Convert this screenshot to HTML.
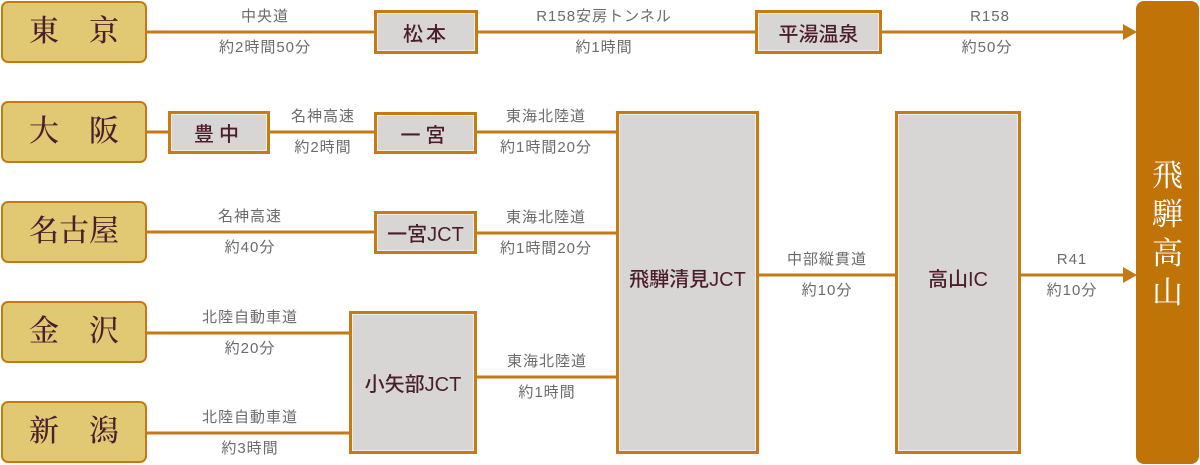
<!DOCTYPE html>
<html>
<head>
<meta charset="utf-8">
<style>
  html,body{margin:0;padding:0;background:#fff;}
  body{width:1200px;height:465px;position:relative;overflow:hidden;}
  .city{position:absolute;left:1px;width:142px;height:58px;border:2px solid #c47a14;border-radius:7px;background:#e1c872;
    font-family:"Liberation Serif","Noto Serif CJK SC","Noto Serif CJK JP",serif;font-size:30px;font-weight:500;color:#4b1e2c;
    text-align:center;line-height:58px;white-space:nowrap;}
  .g{position:absolute;box-sizing:border-box;border:3px solid #c47d14;background:#d8d6d5;box-shadow:inset 0 0 0 1px #efeeee;
    font-family:"Liberation Sans","Noto Sans CJK JP",sans-serif;font-size:20px;font-weight:500;color:#4b1e2c;
    display:flex;align-items:center;justify-content:center;white-space:nowrap;}
  .lb{position:absolute;width:240px;margin-left:-120px;text-align:center;
    font-family:"Liberation Sans","Noto Sans CJK JP",sans-serif;font-size:15px;letter-spacing:1px;color:#6b6b6b;line-height:20px;white-space:nowrap;}
  .dest{position:absolute;left:1136px;top:1px;width:63px;height:463px;background:#c07408;border-radius:8px;}
  .dest div{position:absolute;left:0;top:155px;width:63px;text-align:center;color:#fff;
    font-family:"Liberation Serif","Noto Serif CJK SC","Noto Serif CJK JP",serif;font-size:31px;line-height:39px;}
</style>
</head>
<body>
<svg width="1200" height="465" style="position:absolute;left:0;top:0" xmlns="http://www.w3.org/2000/svg">
  <g stroke="#c47a14" stroke-width="3" fill="none">
    <line x1="147" y1="32" x2="376" y2="32"/>
    <line x1="476" y1="32" x2="757" y2="32"/>
    <line x1="880" y1="32" x2="1126" y2="32"/>
    <line x1="147" y1="132" x2="170" y2="132"/>
    <line x1="268" y1="132" x2="376" y2="132"/>
    <line x1="475" y1="132" x2="618" y2="132"/>
    <line x1="147" y1="232" x2="376" y2="232"/>
    <line x1="475" y1="233" x2="618" y2="233"/>
    <line x1="147" y1="333" x2="351" y2="333"/>
    <line x1="147" y1="433" x2="351" y2="433"/>
    <line x1="475" y1="377" x2="618" y2="377"/>
    <line x1="757" y1="275" x2="897" y2="275"/>
    <line x1="1019" y1="275" x2="1126" y2="275"/>
  </g>
  <g fill="#c47a14">
    <polygon points="1123,24 1137,32 1123,40"/>
    <polygon points="1123,267 1137,275 1123,283"/>
  </g>
</svg>

<div class="city" style="top:1px">東　京</div>
<div class="city" style="top:101px">大　阪</div>
<div class="city" style="top:201px">名古屋</div>
<div class="city" style="top:301px">金　沢</div>
<div class="city" style="top:401px">新　潟</div>

<div class="g" style="left:374px;top:10px;width:104px;height:44px;letter-spacing:3px;">松本</div>
<div class="g" style="left:755px;top:10px;width:127px;height:44px;">平湯温泉</div>
<div class="g" style="left:168px;top:111px;width:102px;height:43px;letter-spacing:5px;">豊中</div>
<div class="g" style="left:374px;top:112px;width:103px;height:42px;letter-spacing:5px;">一宮</div>
<div class="g" style="left:374px;top:211px;width:103px;height:43px;">一宮JCT</div>
<div class="g" style="left:349px;top:311px;width:128px;height:143px;">小矢部JCT</div>
<div class="g" style="left:616px;top:111px;width:143px;height:343px;padding-bottom:10px;">飛騨清見JCT</div>
<div class="g" style="left:895px;top:111px;width:126px;height:343px;padding-bottom:10px;">高山IC</div>

<div class="dest"><div>飛<br>騨<br>高<br>山</div></div>

<div class="lb" style="left:265px;top:7px">中央道</div>
<div class="lb" style="left:265px;top:38px">約2時間50分</div>
<div class="lb" style="left:604px;top:7px">R158安房トンネル</div>
<div class="lb" style="left:604px;top:38px">約1時間</div>
<div class="lb" style="left:990px;top:7px">R158</div>
<div class="lb" style="left:987px;top:38px">約50分</div>

<div class="lb" style="left:323px;top:107px">名神高速</div>
<div class="lb" style="left:323px;top:138px">約2時間</div>
<div class="lb" style="left:546px;top:107px">東海北陸道</div>
<div class="lb" style="left:546px;top:138px">約1時間20分</div>

<div class="lb" style="left:250px;top:207px">名神高速</div>
<div class="lb" style="left:250px;top:238px">約40分</div>
<div class="lb" style="left:546px;top:208px">東海北陸道</div>
<div class="lb" style="left:546px;top:239px">約1時間20分</div>

<div class="lb" style="left:250px;top:308px">北陸自動車道</div>
<div class="lb" style="left:250px;top:339px">約20分</div>
<div class="lb" style="left:250px;top:408px">北陸自動車道</div>
<div class="lb" style="left:250px;top:439px">約3時間</div>

<div class="lb" style="left:547px;top:352px">東海北陸道</div>
<div class="lb" style="left:547px;top:383px">約1時間</div>

<div class="lb" style="left:827px;top:250px">中部縦貫道</div>
<div class="lb" style="left:827px;top:281px">約10分</div>
<div class="lb" style="left:1072px;top:250px">R41</div>
<div class="lb" style="left:1072px;top:281px">約10分</div>
</body>
</html>
